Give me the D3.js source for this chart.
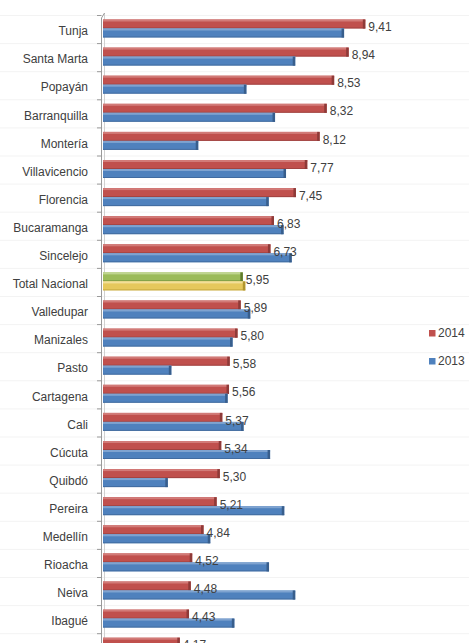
<!DOCTYPE html>
<html>
<head>
<meta charset="utf-8">
<script src="https://cdn.jsdelivr.net/npm/d3@7"></script>
<style>
	html, body { margin: 0; padding: 0; background: #ffffff; }
	svg { display: block; }
</style>
</head>
<body>
<script>
(function(){

// values (2014 on top, 2013 below)
var cities = ["Tunja", "Santa Marta", "Popayán", "Barranquilla", "Montería", "Villavicencio",
	"Florencia", "Bucaramanga", "Sincelejo", "Total Nacional", "Valledupar", "Manizales",
	"Pasto", "Cartagena", "Cali", "Cúcuta", "Quibdó", "Pereira", "Medellín", "Rioacha",
	"Neiva", "Ibagué", "Armenia"];
var values2014 = [9.41, 8.94, 8.53, 8.32, 8.12, 7.77, 7.45, 6.83, 6.73, 5.95, 5.89, 5.80,
	5.58, 5.56, 5.37, 5.34, 5.30, 5.21, 4.84, 4.52, 4.48, 4.43, 4.17];
var values2013 = [8.81, 7.43, 6.05, 6.86, 4.69, 7.17, 6.68, 7.10, 7.33, 6.02, 6.16, 5.66,
	3.93, 5.52, 5.97, 6.72, 3.83, 7.12, 5.03, 6.69, 7.43, 5.71, 5.00];
var seriesNames = ["2014", "2013"];
var TOTAL = "Total Nacional";

var WIDTH = 469, HEIGHT = 643;
var FONT = "'Liberation Sans', Arial, sans-serif";
var TEXT_COLOR = "#404040";

// front / top highlight / dark end cap
var COLORS = {
	"2014": { face: "#C0504D", light: "#D27B78", dark: "#8E3A38" },
	"2013": { face: "#4F81BD", light: "#7FA3D0", dark: "#385E8C" },
	"total2014": { face: "#9BBB59", light: "#BFD58F", dark: "#5E7A2C" },
	"total2013": { face: "#E5C85C", light: "#F2DF98", dark: "#B0952E" }
};

var svg = d3.select("body").append("svg")
	.attr("width", WIDTH)
	.attr("height", HEIGHT);

var rows = cities.map(function(c, i) {
	return { city: c, v2014: values2014[i], v2013: values2013[i] };
});

var y = d3.scaleBand()
	.domain(cities)
	.range([15, 15 + cities.length * 28.1])
	.padding(0);

var ySub = d3.scaleBand()
	.domain(seriesNames)
	.range([4.5, 22.5])
	.padding(0);

var x = d3.scaleLinear()
	.domain([2, 10])
	.range([103, 103 + 8 * 35.4]);

// faint back-wall stripes
svg.append("g").selectAll("line")
	.data(cities)
	.enter().append("line")
	.attr("x1", 0).attr("x2", WIDTH)
	.attr("y1", function(d) { return y(d) + 0.5; })
	.attr("y2", function(d) { return y(d) + 0.5; })
	.attr("stroke", "#f3f3f3")
	.attr("stroke-width", 1);

// axis wall
var axisG = svg.append("g");
var axisBottom = y.range()[1];
axisG.append("line")
	.attr("x1", 101.5).attr("x2", 101.5)
	.attr("y1", 18).attr("y2", axisBottom + 3)
	.attr("stroke", "#9a9a9a").attr("stroke-width", 1);
axisG.append("line")
	.attr("x1", 104.5).attr("x2", 104.5)
	.attr("y1", 13).attr("y2", axisBottom)
	.attr("stroke", "#d0d0d0").attr("stroke-width", 1);
axisG.append("line")
	.attr("x1", 101.5).attr("x2", 104.5)
	.attr("y1", 18).attr("y2", 13)
	.attr("stroke", "#9a9a9a").attr("stroke-width", 1);
axisG.selectAll("line.tick")
	.data(cities.concat(["__end"]))
	.enter().append("line")
	.attr("class", "tick")
	.attr("x1", 97).attr("x2", 101.5)
	.attr("y1", function(d, i) { return y.range()[0] + i * y.step() + 0.5; })
	.attr("y2", function(d, i) { return y.range()[0] + i * y.step() + 0.5; })
	.attr("stroke", "#9a9a9a");

// category labels (the last row's name falls below the picture)
svg.append("g").selectAll("text")
	.data(cities.filter(function(d) { return y(d) + y.bandwidth() / 2 < HEIGHT - 8; }))
	.enter().append("text")
	.attr("x", 88)
	.attr("y", function(d) { return y(d) + y.bandwidth() / 2 + 3; })
	.attr("text-anchor", "end")
	.attr("dominant-baseline", "middle")
	.attr("fill", TEXT_COLOR)
	.attr("font-family", FONT)
	.attr("font-size", "12px")
	.text(function(d) { return d; });

function colorFor(row, series) {
	if(row.city === TOTAL) { return COLORS["total" + series]; }
	return COLORS[series];
}

function drawBar(g, row, series) {
	var v = row["v" + series];
	var c = colorFor(row, series);
	var x0 = x.range()[0];
	var x1 = x(v);
	var top = y(row.city) + ySub(series);
	var h = ySub.bandwidth();

	g.append("rect")
		.attr("x", x0).attr("y", top)
		.attr("width", x1 - x0).attr("height", h)
		.attr("fill", c.face);
	g.append("rect")
		.attr("x", x0).attr("y", top)
		.attr("width", x1 - x0).attr("height", 2)
		.attr("fill", c.light);
	g.append("rect")
		.attr("x", x0).attr("y", top + h - 1)
		.attr("width", x1 - x0).attr("height", 1)
		.attr("fill", c.dark).attr("opacity", 0.6);
	g.append("rect")
		.attr("x", x1 - 2.5).attr("y", top)
		.attr("width", 2.5).attr("height", h)
		.attr("fill", c.dark);
}

var barsG = svg.append("g");
rows.forEach(function(row) {
	var g = barsG.append("g");
	drawBar(g, row, "2014");
	drawBar(g, row, "2013");
});

// value labels for 2014
svg.append("g").selectAll("text")
	.data(rows)
	.enter().append("text")
	.attr("x", function(d) { return x(d.v2014) + 3; })
	.attr("y", function(d) { return y(d.city) + 13; })
	.attr("dominant-baseline", "middle")
	.attr("fill", TEXT_COLOR)
	.attr("font-family", FONT)
	.attr("font-size", "12px")
	.text(function(d) { return d.v2014.toFixed(2).replace(".", ","); });

// legend
var legend = svg.append("g").selectAll("g")
	.data(seriesNames)
	.enter().append("g")
	.attr("transform", function(d, i) { return "translate(429," + (330 + i * 28) + ")"; });
legend.append("rect")
	.attr("width", 6.5).attr("height", 6.5)
	.attr("fill", function(d) { return COLORS[d].face; });
legend.append("text")
	.attr("x", 9)
	.attr("y", 3.5)
	.attr("dominant-baseline", "middle")
	.attr("fill", TEXT_COLOR)
	.attr("font-family", FONT)
	.attr("font-size", "12px")
	.text(function(d) { return d; });

})();
</script>
</body>
</html>
